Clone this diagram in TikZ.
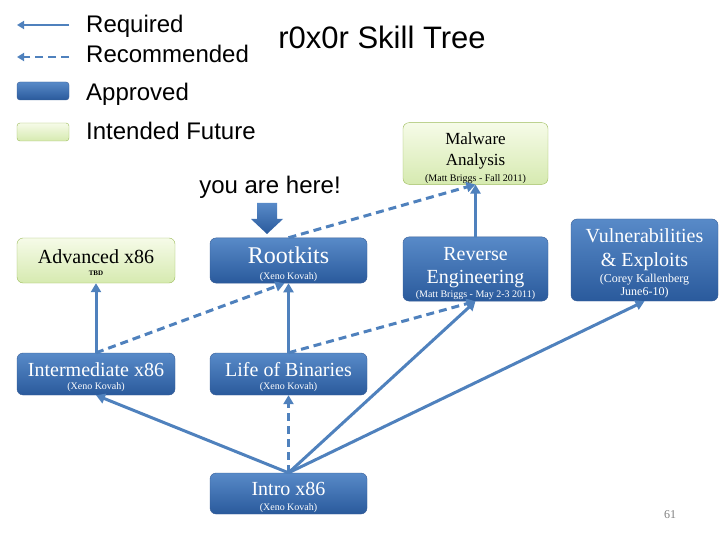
\documentclass[tikz,border=0pt]{standalone}
\usepackage{fontspec}
\setmainfont{Liberation Serif}
\setsansfont{Liberation Sans}
\usepackage{tikz}
\usetikzlibrary{positioning, calc, arrows.meta}

\definecolor{linkblue}{RGB}{79,129,189}
\definecolor{boxtop}{RGB}{88,138,200}
\definecolor{boxbot}{RGB}{42,90,156}
\definecolor{boxline}{RGB}{56,93,150}
\definecolor{futtop}{RGB}{246,251,232}
\definecolor{futbot}{RGB}{214,234,176}
\definecolor{futline}{RGB}{155,187,89}

\newcommand{\sub}[1]{{\fontsize{10}{12}\selectfont #1}}
\newcommand{\subb}[1]{{\fontsize{12}{14}\selectfont #1}}
\newcommand{\pad}[1]{\rule{0pt}{#1}}

\begin{document}
\begin{tikzpicture}[
    x=1pt, y=-1pt,
    approved/.style={draw=boxline, rounded corners=6pt, top color=boxtop, bottom color=boxbot, text=white, align=center, inner sep=1pt, font=\fontsize{20}{23}\selectfont},
    future/.style={draw=futline, rounded corners=6pt, top color=futtop, bottom color=futbot, text=black, align=center, inner sep=1pt, font=\fontsize{20}{23}\selectfont},
    legendtext/.style={anchor=base west, inner sep=0pt, font=\sffamily\fontsize{24}{27}\selectfont},
    req/.style={draw=linkblue, line width=3pt, -{Triangle[length=9pt, width=10pt]}},
    rec/.style={req, dash pattern=on 8pt off 5pt}
]
    \useasboundingbox (0,0) rectangle (720,540);

    % Legend
    \coordinate (reqa) at (69,25);
    \coordinate (reqb) at (17,25);
    \coordinate (reca) at (69,57);
    \coordinate (recb) at (17,57);
    \draw[req, line width=2.5pt, -{Triangle[length=7pt, width=8pt]}] (reqa) -- (reqb);
    \draw[rec, line width=2.5pt, -{Triangle[length=7pt, width=8pt]}] (reca) -- (recb);
    \node[approved, minimum width=52pt, minimum height=18pt, rounded corners=3pt] (keyapp) at (43,91) {};
    \node[future, minimum width=52pt, minimum height=18pt, rounded corners=3pt] (keyfut) at (43,132) {};
    \node[legendtext] (lreq) at (86,33) {Required};
    \node[legendtext] (lrec) at (86,63) {Recommended};
    \node[legendtext] (lapp) at (86,101) {Approved};
    \node[legendtext] (lfut) at (86,140) {Intended Future};

    % Title
    \node[font=\sffamily\fontsize{31}{34}\selectfont] (title) at (382,37) {r0x0r Skill Tree};

    % Classes
    \node[future, minimum width=158pt, minimum height=45pt] (adv) at (96,260.5)
        {\pad{18.5pt}Advanced x86\\[-11pt]{\fontsize{7}{8}\selectfont\bfseries TBD}};
    \node[approved, minimum width=157pt, minimum height=45pt] (root) at (288.5,260.5)
        {\pad{25pt}{\fontsize{24}{26}\selectfont Rootkits}\\[-7pt]\sub{(Xeno Kovah)}};
    \node[approved, minimum width=158pt, minimum height=42pt] (inter) at (96,374)
        {\pad{20.5pt}Intermediate x86\\[-10pt]\sub{(Xeno Kovah)}};
    \node[approved, minimum width=157pt, minimum height=42pt] (lob) at (288.5,374)
        {\pad{20.5pt}Life of Binaries\\[-10pt]\sub{(Xeno Kovah)}};
    \node[approved, minimum width=157pt, minimum height=41pt] (intro) at (288.5,493.5)
        {\pad{21.5pt}Intro x86\\[-8pt]\sub{(Xeno Kovah)}};
    \node[future, minimum width=145pt, minimum height=59pt, font=\fontsize{17}{21}\selectfont] (mal) at (475.5,153.5)
        {\pad{20.5pt}Malware\\Analysis\\[-5pt]\sub{(Matt Briggs - Fall 2011)}};
    \node[approved, minimum width=145pt, minimum height=64pt] (rev) at (475.5,269)
        {\pad{23pt}Reverse\\Engineering\\[-9pt]\sub{(Matt Briggs - May 2-3 2011)}};
    \node[approved, minimum width=147pt, minimum height=82pt] (vuln) at (644.5,260)
        {\pad{21.5pt}Vulnerabilities\\[1pt]\& Exploits\\[-7pt]\subb{(Corey Kallenberg}\\[-10pt]\subb{June6-10)}};

    % You are here
    \node[font=\sffamily\fontsize{24}{27}\selectfont] (here) at (270,187) {you are here!};
    \shade[top color=boxtop, bottom color=boxbot] (257,203) -- (277,203) -- (277,219) -- (283,219)
        -- (267,234) -- (251,219) -- (257,219) -- cycle;

    % Required
    \draw[req] (intro.north) -- (inter.south);
    \draw[req] (intro.north) -- (rev.south);
    \draw[req] (intro.north) -- (vuln.south);
    \draw[req] (inter.north) -- (adv.south);
    \draw[req] (lob.north) -- (root.south);
    \draw[req] (rev.north) -- (mal.south);

    % Recommended
    \draw[rec] (intro.north) -- (lob.south);
    \draw[rec] (lob.north) -- (rev.south);
    \draw[rec] (inter.north) -- ([xshift=-4pt]root.south);
    \draw[rec] (root.north) -- (mal.south);

    % Page number
    \node[text=gray, font=\fontsize{12}{14}\selectfont] (page) at (670,515) {61};
\end{tikzpicture}
\end{document}
